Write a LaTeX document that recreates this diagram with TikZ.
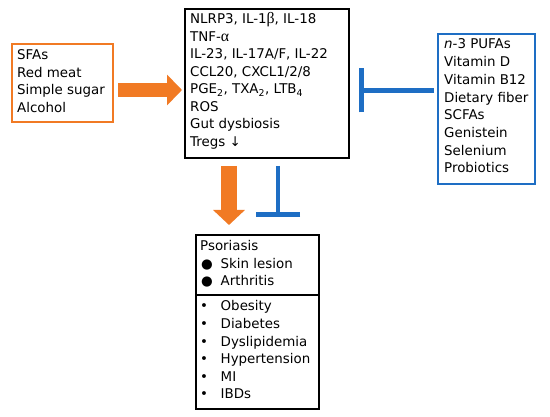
\documentclass[tikz,border=0pt]{standalone}
\usepackage{fontspec}
\setmainfont{DejaVu Sans}
\newfontfamily\grk{Liberation Serif}[Scale=1.18]
\usetikzlibrary{arrows.meta}
\definecolor{myorange}{RGB}{241,122,36}
\definecolor{myblue}{RGB}{30,110,196}
\tikzset{
  txt/.style={anchor=base west, inner sep=0pt, font=\fontsize{13.4}{16}\selectfont},
  obox/.style={draw=myorange, line width=1.6pt, anchor=north west, inner sep=0pt},
  bbox/.style={draw=myblue, line width=1.6pt, anchor=north west, inner sep=0pt},
  kbox/.style={draw=black, line width=2pt, anchor=north west, inner sep=0pt},
  fatarrow/.style={draw=myorange, line width=14pt, -{Triangle[length=15pt,width=30pt]}},
  inhib/.style={draw=myblue, line width=4.5pt, -{Bar[width=44pt]}},
}
\begin{document}
\begin{tikzpicture}[x=1pt,y=-1pt]
\useasboundingbox (0,0) rectangle (550,417);
% boxes
\node[obox, minimum width=101pt, minimum height=78pt] (left) at (11,43) {};
\node[kbox, minimum width=164pt, minimum height=149pt] (center) at (184,8) {};
\node[bbox, minimum width=97pt, minimum height=150pt] (right) at (437,33) {};
\node[kbox, minimum width=123pt, minimum height=60pt] (psor) at (195,234) {};
\node[kbox, minimum width=123pt, minimum height=114pt] (comor) at (195,294) {};
% left text
\foreach \t [count=\i] in {SFAs, Red meat, Simple sugar, Alcohol}
  \node[txt] (l\i) at (17,60+17.5*\i-17.5) {\t};
% center text
\foreach \t [count=\i] in {{NLRP3, IL-1{\grk β}, IL-18}, {TNF-{\grk α}}, {IL-23, IL-17A/F, IL-22}, {CCL20, CXCL1/2/8}, {PGE\textsubscript{2}, TXA\textsubscript{2}, LTB\textsubscript{4}}, ROS, Gut dysbiosis, {Tregs ↓}}
  \node[txt] (c\i) at (190,24+17.5*\i-17.5) {\t};
% right text
\foreach \t [count=\i] in {{\textit{n}-3 PUFAs}, Vitamin D, Vitamin B12, Dietary fiber, SCFAs, Genistein, Selenium, Probiotics}
  \node[txt] (r\i) at (444,49+17.7*\i-17.7) {\t};
% bottom text
\node[txt] (p0) at (200,251) {Psoriasis};
\node[txt] (p1) at (220.5,268.5) {Skin lesion};
\node[txt] (p2) at (220.5,286) {Arthritis};
\node[txt, anchor=base] (pb1) at (207,268.5) {●};
\node[txt, anchor=base] (pb2) at (207,286) {●};
\foreach \t [count=\i] in {Obesity, Diabetes, Dyslipidemia, Hypertension, MI, IBDs}{
  \node[txt] (d\i) at (220.5,310.7+17.66*\i-17.66) {\t};
  \node[txt, anchor=base] (db\i) at (204,310.7+17.66*\i-17.66) {•};
}
% connectors
\coordinate (a1s) at (118,90);
\coordinate (a1e) at (182,90);
\draw[fatarrow] (a1s) -- (a1e);
\coordinate (t1s) at (434,90.5);
\coordinate (t1e) at (359,90.5);
\draw[inhib] (t1s) -- (t1e);
\coordinate (a2s) at (229,166);
\coordinate (a2e) at (229,225);
\draw[fatarrow, line width=16pt, -{Triangle[length=15pt,width=31pt]}] (a2s) -- (a2e);
\coordinate (t2s) at (278,166);
\coordinate (t2e) at (278,217);
\draw[inhib] (t2s) -- (t2e);
\end{tikzpicture}
\end{document}
